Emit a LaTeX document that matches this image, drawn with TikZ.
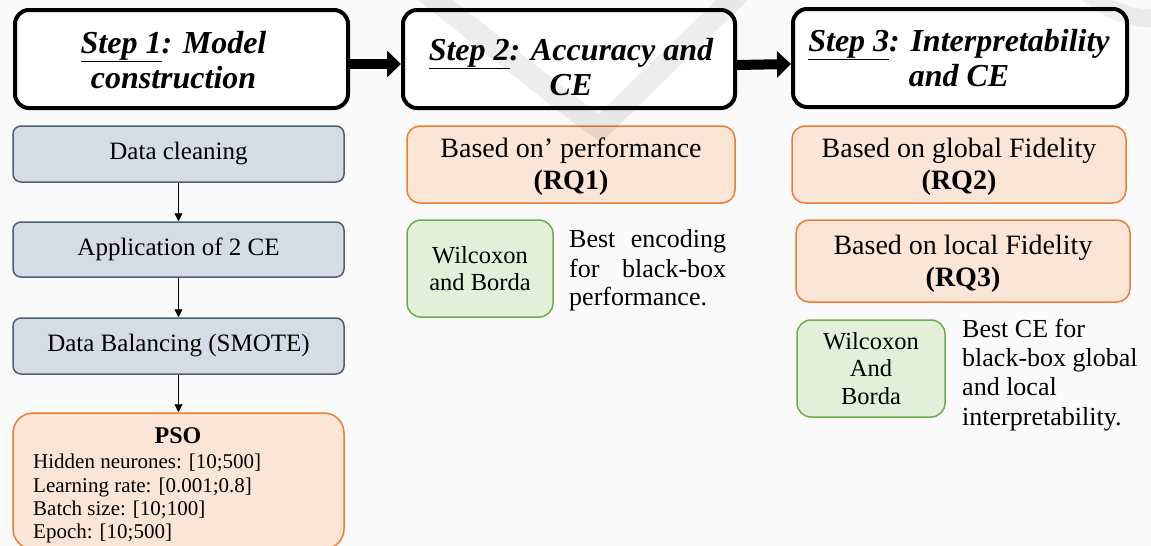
\documentclass[tikz,border=0pt]{standalone}
\usepackage{fontspec}
\setmainfont{Liberation Serif}
\usetikzlibrary{arrows.meta}
\definecolor{bluefill}{HTML}{D6DCE5}
\definecolor{blueline}{HTML}{4F5F78}
\definecolor{orfill}{HTML}{FBE5D6}
\definecolor{orline}{HTML}{ED7D31}
\definecolor{grfill}{HTML}{E2F0D9}
\definecolor{grline}{HTML}{70AD47}
\definecolor{bgcol}{HTML}{FAFAFA}
\begin{document}
\begin{tikzpicture}[x=1pt,y=-1pt,
  stepbox/.style={draw=black,line width=4pt,fill=white,rounded corners=14pt,inner sep=0pt},
  steptext/.style={align=center,inner sep=0pt,font=\fontsize{32}{35}\selectfont\bfseries\itshape},
  bluebox/.style={draw=blueline,line width=1.5pt,fill=bluefill,rounded corners=8pt,
    font=\fontsize{25}{28}\selectfont,inner sep=0pt,minimum width=331pt},
  orbox/.style={draw=orline,line width=1.5pt,fill=orfill,rounded corners=13pt,align=center,
    font=\fontsize{28}{32}\selectfont,inner sep=0pt},
  grbox/.style={draw=grline,line width=1.5pt,fill=grfill,rounded corners=14pt,align=center,
    font=\fontsize{24.5}{27.5}\selectfont,inner sep=0pt},
  freetext/.style={anchor=base west,inner sep=0pt,font=\fontsize{26}{29}\selectfont},
  psotext/.style={anchor=base west,inner sep=0pt,font=\fontsize{21}{23}\selectfont},
  bigarrow/.style={line width=10pt,-{Triangle[length=14pt,width=26pt]}},
  smallarrow/.style={line width=0.9pt,-{Triangle[length=8pt,width=8pt]}}
]
\fill[bgcol] (0,0) rectangle (1151,546);
\useasboundingbox (0,0) rectangle (1151,546);

% Step boxes
\node[stepbox,minimum width=333pt,minimum height=98pt] (s1) at (181.5,59) {};
\node[stepbox,minimum width=332pt,minimum height=98pt] (s2) at (569,59) {};
\node[stepbox,minimum width=334pt,minimum height=98pt] (s3) at (960,58) {};
\node[steptext] (s1t) at (173.5,60) {\underline{Step 1}: Model\\construction};
\node[steptext] (s2t) at (571,67) {\underline{Step 2}: Accuracy and\\CE};
\node[steptext] (s3t) at (959,58) {\underline{Step 3}: Interpretability\\and CE};

\draw[bigarrow] ([yshift=-5pt]s1.east) -- ([yshift=-5pt]s2.west);
\draw[bigarrow] ([yshift=-6pt]s2.east) -- ([yshift=-6pt]s3.west);

% Left column
\node[bluebox,minimum height=56pt] (dc) at (178.5,154) {Data cleaning};
\node[bluebox,minimum height=55pt] (app) at (178.5,249.5) {Application of 2 CE};
\node[bluebox,minimum height=56pt] (bal) at (178.5,346) {Data Balancing (SMOTE)};
\node[draw=orline,line width=1.5pt,fill=orfill,rounded corners=20pt,minimum width=331pt,
  minimum height=136pt,inner sep=0pt] (pso) at (178.5,481) {};
\draw[smallarrow] (dc) -- (app);
\draw[smallarrow] (app) -- (bal);
\draw[smallarrow] (bal) -- (pso);
\node[anchor=base,inner sep=0pt,font=\fontsize{24}{26}\selectfont\bfseries] (psot) at (178,443) {PSO};
\node[psotext] (p1) at (33,468) {Hidden neurones: [10;500]};
\node[psotext] (p2) at (33,492) {Learning rate: [0.001;0.8]};
\node[psotext] (p3) at (33,515) {Batch size: [10;100]};
\node[psotext] (p4) at (33,538) {Epoch: [10;500]};

% Middle column
\node[orbox,minimum width=328pt,minimum height=77pt] (rq1) at (571,164.5)
  {\rule{0pt}{24pt}Based on’ performance\\\textbf{(RQ1)}};
\node[grbox,minimum width=146pt,minimum height=97pt] (wb1) at (480,268.5)
  {Wilcoxon\\and Borda};
\node[freetext] (t1a) at (569,247) {\makebox[157pt][s]{Best encoding}};
\node[freetext] (t1b) at (569,277) {\makebox[157pt][s]{for black-box}};
\node[freetext] (t1c) at (569,305) {performance.};

% Right column
\node[orbox,minimum width=334pt,minimum height=77pt] (rq2) at (959,164.5)
  {\rule{0pt}{24pt}Based on global Fidelity\\\textbf{(RQ2)}};
\node[orbox,minimum width=334pt,minimum height=82pt] (rq3) at (963,261)
  {\rule{0pt}{24pt}Based on local Fidelity\\\textbf{(RQ3)}};
\node[grbox,minimum width=148pt,minimum height=97pt] (wb2) at (871,368.5)
  {Wilcoxon\\And\\Borda};
\node[freetext] (t2a) at (962,337) {Best CE for};
\node[freetext] (t2b) at (962,366) {black-box global};
\node[freetext] (t2c) at (962,395) {and local};
\node[freetext] (t2d) at (962,425) {interpretability.};

% faint watermark
\draw[black,opacity=0.07,line width=22pt] (420,-12) .. controls (500,50) and (560,100) .. (600,128)
  .. controls (650,80) and (700,30) .. (745,-12);
\draw[black,opacity=0.06,line width=18pt] (1085,-10) .. controls (1110,15) and (1140,20) .. (1160,18);
\end{tikzpicture}
\end{document}
